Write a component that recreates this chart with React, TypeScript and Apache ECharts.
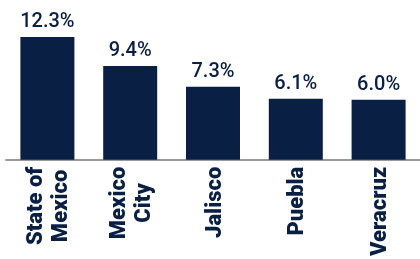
import React, { useEffect, useRef } from "react";
import * as echarts from "echarts";

const categories = ["State of\nMexico", "Mexico\nCity", "Jalisco", "Puebla", "Veracruz"];
const values = [12.3, 9.4, 7.3, 6.1, 6.0];

const NAVY = "#0a1f44";

export default function App() {
  const ref = useRef<HTMLDivElement>(null);
  useEffect(() => {
    document.body.style.margin = "0";
    const chart = echarts.init(ref.current!, null, { renderer: "svg" });
    chart.setOption({
      animation: false,
      grid: { left: 6, width: 420, top: 0, bottom: 97, containLabel: false },
      xAxis: {
        type: "category",
        data: categories,
        axisLine: { show: true, lineStyle: { color: "#999999", width: 2 } },
        axisTick: { show: false },
        axisLabel: {
          rotate: 90,
          margin: 7,
          interval: 0,
          formatter: (v: string) =>
            v
              .split("\n")
              .map((s) => "{c|" + s + "}")
              .join("\n"),
          rich: {
            c: {
              align: "center",
              color: NAVY,
              fontFamily: "Roboto",
              fontWeight: 900,
              fontSize: 22,
              lineHeight: 25,
            },
          },
        },
      },
      yAxis: {
        type: "value",
        min: 0,
        max: 16,
        show: false,
        splitLine: { show: false },
      },
      series: [
        {
          type: "bar",
          data: values,
          barWidth: 54,
          itemStyle: { color: NAVY },
          label: {
            show: true,
            position: "top",
            distance: 7,
            color: NAVY,
            fontFamily: "Roboto",
            fontWeight: 500,
            fontSize: 20,
            formatter: (p: any) => p.value.toFixed(1) + "%",
          },
        },
      ],
    });
    return () => chart.dispose();
  }, []);
  return (
    <div
      ref={ref}
      style={{ position: "fixed", left: 0, top: 0, width: 420, height: 259 }}
    />
  );
}
